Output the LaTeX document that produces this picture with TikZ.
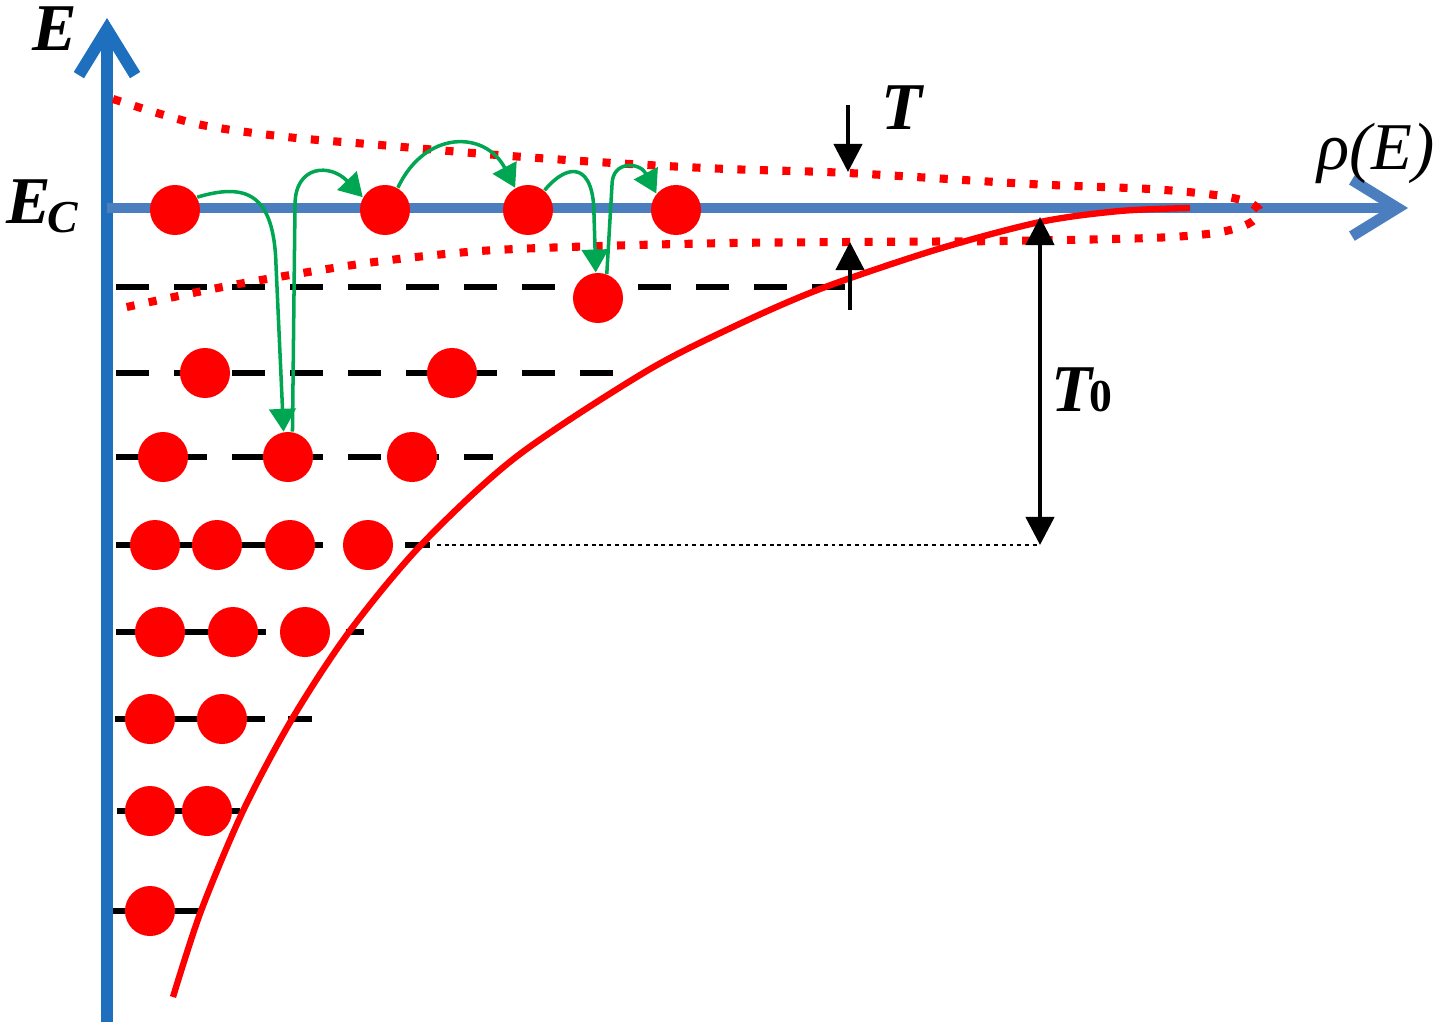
\documentclass[tikz,border=0pt]{standalone}
\usepackage{fontspec}
\setmainfont{Liberation Serif}
\usetikzlibrary{arrows.meta}
\newcommand{\esize}{0.5cm}
\definecolor{axisblue}{RGB}{30,112,190}
\definecolor{ecblue}{RGB}{74,126,190}
\definecolor{hopgreen}{RGB}{0,166,81}

\begin{document}
\begin{tikzpicture}[x=0.01cm, y=-0.01cm,
    electron/.style={circle, fill=red, minimum size=\esize, inner sep=0pt},
    level/.style={line width=1.7pt, dash pattern=on 9.4pt off 7.1pt},
    levelsolid/.style={line width=1.7pt},
    hop/.style={hopgreen, line width=1pt, -{Triangle[length=6.5pt,width=7.5pt]}},
    gap/.style={line width=1.2pt, -{Triangle[length=8pt,width=8pt]}},
    band/.style={red, line width=2.3pt, dash pattern=on 2.3pt off 4.1pt},
    lbl/.style={font=\fontsize{19}{20}\selectfont\bfseries\itshape, inner sep=0pt}]
    \useasboundingbox (0,0) rectangle (1440,1030);

    % Levels
    \draw[level] (116,287) -- (845,287);
    \draw[level] (116,373) -- (613,373);
    \draw[level] (116,457) -- (493,457);
    \draw[levelsolid] (116,545) -- (323,545);
    \draw[levelsolid] (405,545) -- (430,545);
    \draw[levelsolid] (116,632) -- (266,632);
    \draw[levelsolid] (346,632) -- (364,632);
    \draw[levelsolid] (115,719) -- (265,719);
    \draw[levelsolid] (288,719) -- (312,719);
    \draw[levelsolid] (117,811) -- (240,811);
    \draw[levelsolid] (113,911) -- (200,911);

    % Axes
    \coordinate (O) at (107,1022);
    \coordinate (Etip) at (107,18);
    \coordinate (Ec0) at (107,208);
    \coordinate (rhotip) at (1408,208);
    \draw[axisblue, line width=3.4pt, -{Straight Barb[length=13pt,width=16pt]}] (O) -- (Etip);
    \draw[ecblue, line width=3.1pt, -{Straight Barb[length=13pt,width=16pt]}] (Ec0) -- (rhotip);

    % Density of states
    \draw[red, line width=1.8pt] plot[smooth] coordinates {(173,997) (201,911) (243,811) (292,719) (349,632) (421,545) (516,457) (645,372) (735,326) (820,289) (935,250) (1040,222) (1120,211) (1190,208)};
    \draw[band] plot[smooth] coordinates {(113,99) (197,124) (287,137) (380,145) (497,155) (613,163) (727,169) (848,173) (1030,184) (1150,189) (1215,195) (1248,202) (1260,212) (1248,224) (1215,233) (1150,238) (1000,241) (850,242) (730,243) (600,246) (480,251) (367,263) (233,285) (113,310)};

    % Electrons
    \node[electron] (e-0-1) at (175,210) {};
    \node[electron] (e-0-2) at (385,210) {};
    \node[electron] (e-0-3) at (528,210) {};
    \node[electron] (e-0-4) at (676,210) {};

    \node[electron] (e-1-1) at (598,298) {};

    \node[electron] (e-2-1) at (205,373) {};
    \node[electron] (e-2-2) at (452,373) {};

    \node[electron] (e-3-1) at (163,457) {};
    \node[electron] (e-3-2) at (288,457) {};
    \node[electron] (e-3-3) at (412,457) {};

    \node[electron] (e-4-1) at (155,545) {};
    \node[electron] (e-4-2) at (217,545) {};
    \node[electron] (e-4-3) at (290,545) {};
    \node[electron] (e-4-4) at (368,545) {};

    \node[electron] (e-5-1) at (160,632) {};
    \node[electron] (e-5-2) at (233,632) {};
    \node[electron] (e-5-3) at (305,632) {};

    \node[electron] (e-6-1) at (150,719) {};
    \node[electron] (e-6-2) at (222,719) {};

    \node[electron] (e-7-1) at (150,811) {};
    \node[electron] (e-7-2) at (207,811) {};

    \node[electron] (e-8-1) at (150,911) {};

    % Hops
    \draw[hop] (e-0-1.30) .. controls (245,183) and (274,192) .. (276,265) -- (e-3-2.100);
    \draw[hop] (e-3-2.80) -- (295,205) .. controls (295,165) and (330,163) .. (e-0-2.150);
    \draw[hop] (e-0-2.60) .. controls (425,130) and (485,130) .. (e-0-3.120);
    \draw[hop] (e-0-3.50) .. controls (570,160) and (594,165) .. (594,215) -- (e-1-1.95);
    \draw[hop] (e-1-1.70) -- (612,185) .. controls (612,160) and (640,162) .. (e-0-4.140);

    % Widths
    \coordinate (Tfrom) at (848,105);
    \coordinate (Tto) at (848,172);
    \coordinate (Bfrom) at (850,310);
    \coordinate (Bto) at (850,242);
    \coordinate (T0top) at (1040,217);
    \coordinate (T0bot) at (1040,545);
    \coordinate (flat) at (437,545);
    \draw[gap] (Tfrom) -- (Tto);
    \draw[gap] (Bfrom) -- (Bto);
    \draw[line width=0.7pt, dash pattern=on 1.1pt off 1.1pt] (flat) -- (T0bot);
    \draw[gap, {Triangle[length=8pt,width=8pt]}-{Triangle[length=8pt,width=8pt]}] (T0top) -- (T0bot);

    % Labels
    \node[lbl] (lbl-E) at (55,29) {E};
    \node[lbl] (lbl-Ec) at (42,206) {E\kern-1pt\raisebox{-2.5pt}{\fontsize{13}{13}\selectfont C}};
    \node[lbl] (lbl-T) at (902,108) {T};
    \node[lbl, font=\fontsize{19}{20}\selectfont\itshape] (lbl-rho) at (1376,153) {ρ(E)};
    \node[lbl] (lbl-T0) at (1082,390) {T\kern-1pt{\upshape\fontsize{13}{13}\selectfont 0}};

\end{tikzpicture}
\end{document}
